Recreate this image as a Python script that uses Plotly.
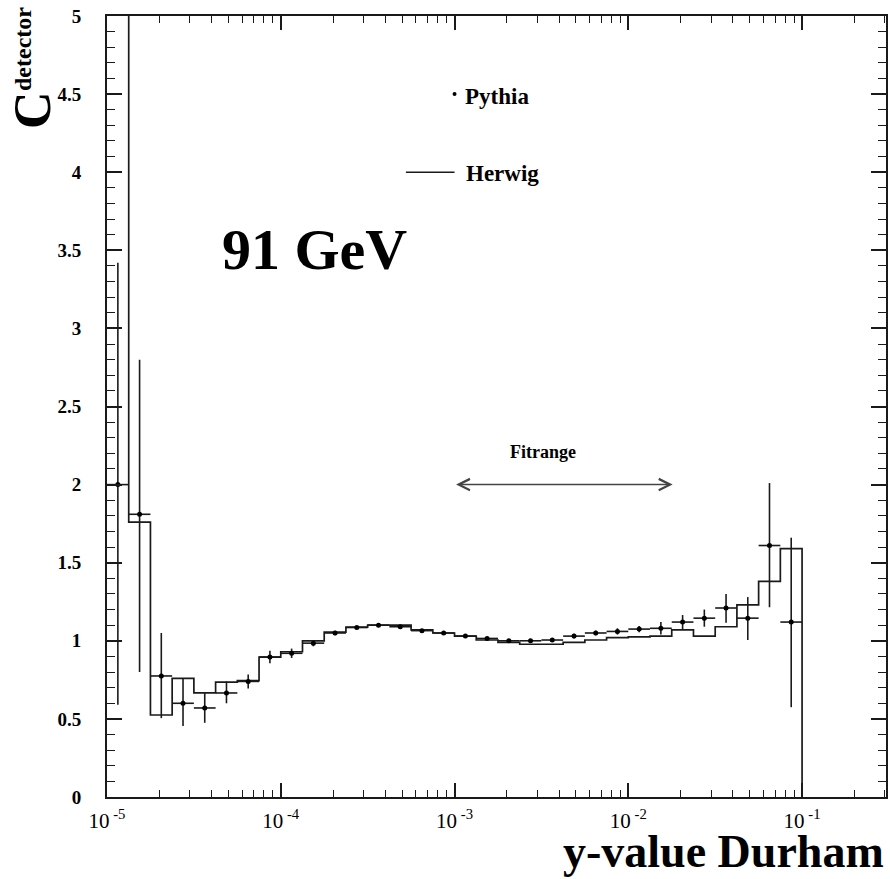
import math
import plotly.graph_objects as go

# ---- data -------------------------------------------------------------
# histogram bin edges (log10 of y-value Durham), 8 bins per decade
BIN_EDGES_LOG10 = [-5.0, -4.875, -4.75, -4.625, -4.5, -4.375, -4.25, -4.125,
                   -4.0, -3.875, -3.75, -3.625, -3.5, -3.375, -3.25, -3.125,
                   -3.0, -2.875, -2.75, -2.625, -2.5, -2.375, -2.25, -2.125,
                   -2.0, -1.875, -1.75, -1.625, -1.5, -1.375, -1.25, -1.125,
                   -1.0]

# Herwig histogram (first bin is off scale)
HERWIG = [5.5, 1.76, 0.525, 0.76, 0.666, 0.735, 0.745, 0.896,
          0.93, 1.0, 1.055, 1.088, 1.10, 1.10, 1.07, 1.05,
          1.03, 1.005, 0.99, 0.978, 0.978, 0.99, 1.005, 1.02,
          1.025, 1.03, 1.07, 1.03, 1.09, 1.23, 1.38, 1.59]

# Pythia points with asymmetric errors
PYTHIA = [2.0, 1.81, 0.775, 0.60, 0.57, 0.666, 0.74, 0.896,
          0.92, 0.985, 1.05, 1.085, 1.10, 1.09, 1.065, 1.05,
          1.03, 1.015, 1.0, 1.0, 1.005, 1.03, 1.05, 1.06,
          1.075, 1.08, 1.12, 1.145, 1.21, 1.145, 1.61, 1.12]
PYTHIA_ERR_UP = [1.42, 0.99, 0.275, 0.16, 0.095, 0.074, 0.045, 0.04,
                 0.03, 0.02, 0.015, 0.01, 0.01, 0.01, 0.01, 0.01,
                 0.01, 0.01, 0.01, 0.01, 0.01, 0.015, 0.015, 0.02,
                 0.02, 0.04, 0.045, 0.055, 0.09, 0.135, 0.40, 0.54]
PYTHIA_ERR_DN = [1.41, 1.01, 0.27, 0.145, 0.095, 0.066, 0.045, 0.04,
                 0.03, 0.02, 0.015, 0.01, 0.01, 0.01, 0.01, 0.01,
                 0.01, 0.01, 0.01, 0.01, 0.01, 0.015, 0.015, 0.02,
                 0.02, 0.04, 0.045, 0.055, 0.095, 0.14, 0.395, 0.545]

X_TICK_EXP = [-5, -4, -3, -2, -1]
Y_TICKS = [0, 0.5, 1, 1.5, 2, 2.5, 3, 3.5, 4, 4.5, 5]

FIT_RANGE = [1e-3, 0.018]
LEGEND_PYTHIA = (1e-3, 4.5)
LEGEND_HERWIG = ([5.25e-4, 1e-3], [4.0, 4.0])

X_RANGE_LOG = [-5, -0.517]
Y_RANGE = [0, 5]

# ---- derived ------------------------------------------------------------
edges = [10 ** e for e in BIN_EDGES_LOG10]
centers = [10 ** ((BIN_EDGES_LOG10[i] + BIN_EDGES_LOG10[i + 1]) / 2) for i in range(len(HERWIG))]
ex_plus = [edges[i + 1] - centers[i] for i in range(len(HERWIG))]
ex_minus = [centers[i] - edges[i] for i in range(len(HERWIG))]

SERIF = "Liberation Serif, Times New Roman, serif"
INK = "#1a1a1a"

fig = go.Figure()

fig.add_trace(go.Scatter(
    x=edges, y=HERWIG + [0.0], mode="lines", line=dict(shape="hv", color=INK, width=1.7),
    showlegend=False, hoverinfo="skip"))

fig.add_trace(go.Scatter(
    x=centers, y=PYTHIA, mode="markers",
    marker=dict(size=5, color="black"),
    error_y=dict(type="data", symmetric=False, array=PYTHIA_ERR_UP, arrayminus=PYTHIA_ERR_DN,
                 color=INK, thickness=1.6, width=0),
    error_x=dict(type="data", symmetric=False, array=ex_plus, arrayminus=ex_minus,
                 color=INK, thickness=1.6, width=0),
    showlegend=False))

# legend-like markers
fig.add_trace(go.Scatter(x=[LEGEND_PYTHIA[0]], y=[LEGEND_PYTHIA[1]], mode="markers",
                         marker=dict(size=4, color="black"), showlegend=False))
fig.add_trace(go.Scatter(x=LEGEND_HERWIG[0], y=LEGEND_HERWIG[1], mode="lines",
                         line=dict(color=INK, width=1.6), showlegend=False))

# invisible trace that carries the mirrored (top/right) tick axes
fig.add_trace(go.Scatter(x=[edges[0]], y=[Y_RANGE[0]], xaxis="x2", yaxis="y2",
                         mode="markers", marker=dict(size=1, opacity=0),
                         showlegend=False, hoverinfo="skip"))

W, H = 779.0, 781.0
L, T = 107.0, 16.0


def px(xp):
    return (xp - L) / W


def py(yp):
    return (T + H - yp) / H


annotations = [
    dict(text="<b>Pythia</b>", x=px(463), y=py(97), xref="paper", yref="paper",
         xanchor="left", yanchor="middle", showarrow=False,
         font=dict(family=SERIF, size=23, color="black")),
    dict(text="<b>Herwig</b>", x=px(464), y=py(174), xref="paper", yref="paper",
         xanchor="left", yanchor="middle", showarrow=False,
         font=dict(family=SERIF, size=23, color="black")),
    dict(text="<b>91 GeV</b>", x=px(220), y=py(249), xref="paper", yref="paper",
         xanchor="left", yanchor="middle", showarrow=False,
         font=dict(family=SERIF, size=58, color="black")),
    dict(text="<b>Fitrange</b>", x=px(543), y=py(452), xref="paper", yref="paper",
         xanchor="center", yanchor="middle", showarrow=False,
         font=dict(family=SERIF, size=18, color="black")),
    dict(text="", x=math.log10(FIT_RANGE[1]), y=2.0, ax=math.log10(FIT_RANGE[0]), ay=2.0,
         xref="x", yref="y", axref="x", ayref="y", showarrow=True,
         arrowside="end+start", arrowhead=5, startarrowhead=5, arrowsize=1.5,
         startarrowsize=1.5, arrowwidth=1.5, arrowcolor="#444", standoff=0, startstandoff=0),
    dict(text="<b>y-value Durham</b>", x=1.0, y=py(879), xref="paper", yref="paper",
         xanchor="right", yanchor="bottom", showarrow=False,
         font=dict(family=SERIF, size=46, color="black")),
    dict(text="<b>C</b>", x=px(32), y=py(110), xref="paper", yref="paper",
         xanchor="center", yanchor="middle", textangle=-90, showarrow=False,
         font=dict(family=SERIF, size=52, color="black")),
    dict(text="<b>detector</b>", x=px(23), y=py(49), xref="paper", yref="paper",
         xanchor="center", yanchor="middle", textangle=-90, showarrow=False,
         font=dict(family=SERIF, size=24, color="black")),
]

minor_x = [m * 10 ** e for e in X_TICK_EXP for m in range(2, 10) if m * 10 ** e < 0.31]
major_x = [10 ** e for e in X_TICK_EXP]

x_common = dict(
    type="log", range=X_RANGE_LOG,
    tickmode="array", tickvals=major_x,
    ticks="inside", ticklen=14, tickwidth=1.5, tickcolor=INK,
    minor=dict(tickmode="array", tickvals=minor_x, ticks="inside", ticklen=7,
               tickwidth=1.3, tickcolor=INK, showgrid=False),
    showline=True, linecolor=INK, linewidth=2,
    showgrid=False, zeroline=False,
)
y_common = dict(
    range=Y_RANGE, tickmode="array", tickvals=Y_TICKS,
    ticks="inside", ticklen=15, tickwidth=1.5, tickcolor=INK,
    minor=dict(dtick=0.1, ticks="inside", ticklen=8, tickwidth=1.3, tickcolor=INK,
               showgrid=False),
    showline=True, linecolor=INK, linewidth=2,
    showgrid=False, zeroline=False,
)

fig.update_layout(
    width=890, height=879,
    margin=dict(l=107, r=4, t=16, b=82),
    paper_bgcolor="white", plot_bgcolor="white",
    annotations=annotations,
    xaxis=dict(
        **x_common,
        ticktext=["10<sup> %d</sup>" % e for e in X_TICK_EXP],
        tickfont=dict(family=SERIF, size=21, color="black"),
        ticklabelstandoff=4,
    ),
    yaxis=dict(
        **y_common,
        ticktext=["%g" % v for v in Y_TICKS],
        tickfont=dict(family=SERIF, size=19, color="black", weight="bold"),
        ticklabelstandoff=20,
    ),
    xaxis2=dict(**x_common, overlaying="x", side="top", anchor="y", showticklabels=False),
    yaxis2=dict(**y_common, overlaying="y", side="right", anchor="x", showticklabels=False),
)

fig.write_html("out.html")
